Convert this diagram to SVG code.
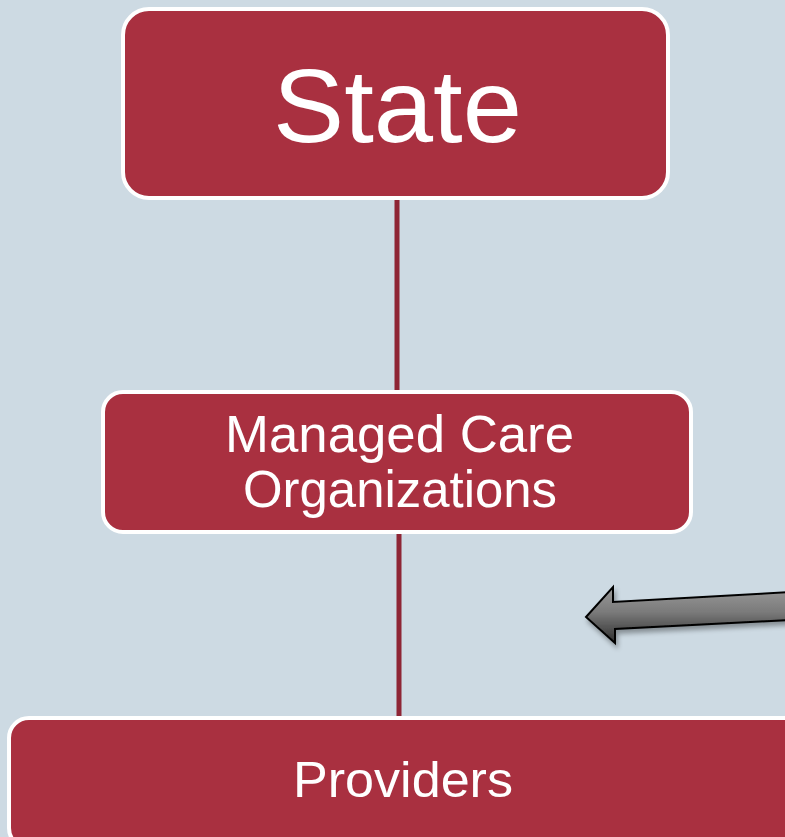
<svg xmlns="http://www.w3.org/2000/svg" width="785" height="837" viewBox="0 0 785 837">
  <defs>
    <linearGradient id="arrowFill" x1="0" y1="0" x2="0" y2="1">
      <stop offset="0" stop-color="#9a9a9a"/>
      <stop offset="0.45" stop-color="#7a7a7a"/>
      <stop offset="1" stop-color="#2e2e2e"/>
    </linearGradient>
    <filter id="soft" x="-10%" y="-30%" width="120%" height="160%">
      <feGaussianBlur in="SourceAlpha" stdDeviation="2.5"/>
      <feOffset dx="2" dy="4" result="b"/>
      <feComponentTransfer><feFuncA type="linear" slope="0.35"/></feComponentTransfer>
      <feMerge><feMergeNode/><feMergeNode in="SourceGraphic"/></feMerge>
    </filter>
  </defs>
  <style>
    .box { fill: #a93040; stroke: #ffffff; stroke-width: 4; }
    .label { fill: #ffffff; font-family: "Liberation Sans", Arial, sans-serif; text-anchor: middle; }
    .link { stroke: #8e2535; stroke-width: 5; fill: none; }
  </style>

  <rect x="0" y="0" width="785" height="837" fill="#cddae3"/>

  <g id="connectors">
    <line class="link" x1="397" y1="198" x2="397" y2="390"/>
    <line class="link" x1="399" y1="533" x2="399" y2="717"/>
  </g>

  <g id="state">
    <rect class="box" x="123" y="9" width="545" height="189" rx="26"/>
    <text class="label" x="397.5" y="141.5" font-size="104" textLength="249" lengthAdjust="spacingAndGlyphs">State</text>
  </g>

  <g id="mco">
    <rect class="box" x="103" y="392" width="588" height="140" rx="20"/>
    <text class="label" x="399.5" y="452" font-size="52" textLength="349" lengthAdjust="spacingAndGlyphs">Managed Care</text>
    <text class="label" x="400" y="507" font-size="52" textLength="314" lengthAdjust="spacingAndGlyphs">Organizations</text>
  </g>

  <g id="providers">
    <rect class="box" x="9" y="718" width="800" height="130" rx="20"/>
    <text class="label" x="403" y="796.5" font-size="50" textLength="220" lengthAdjust="spacingAndGlyphs">Providers</text>
  </g>

  <g id="pointer" filter="url(#soft)">
    <polygon points="586,617 613,587 613,602 790,592 790,620 615,629 615,643" fill="url(#arrowFill)" stroke="#000000" stroke-width="2" stroke-linejoin="miter"/>
  </g>
</svg>
